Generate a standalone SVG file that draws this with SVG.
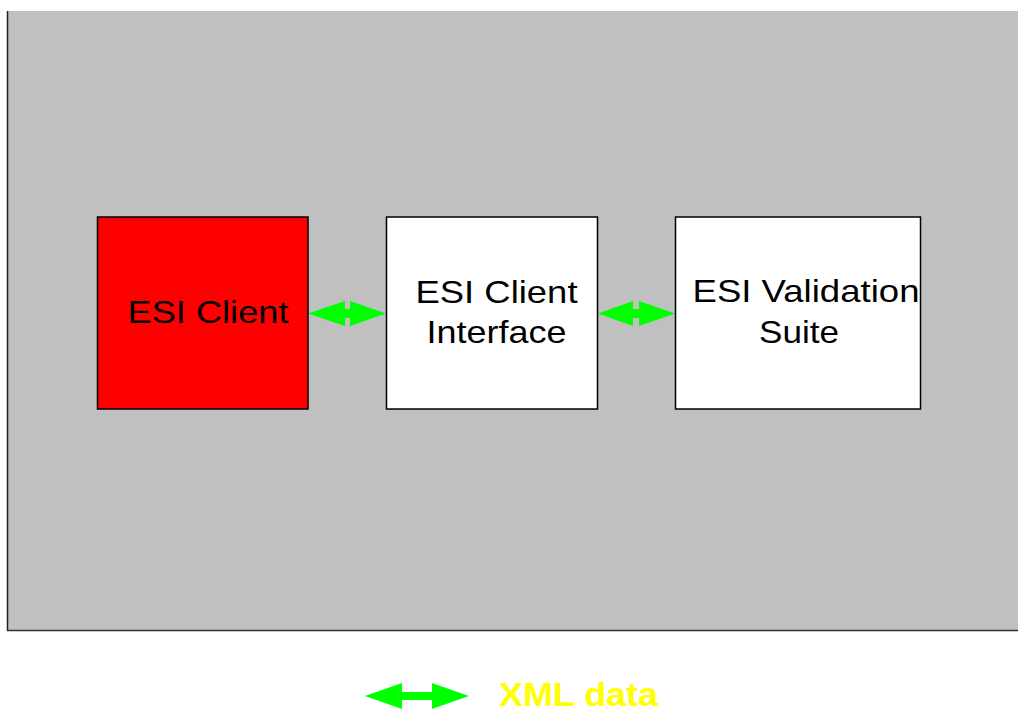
<svg xmlns="http://www.w3.org/2000/svg" width="1018" height="709" viewBox="0 0 1018 709">
<style>
.lbl{font-family:"Liberation Sans",Arial,sans-serif;font-size:32px;fill:#000}
.box{stroke:#000;stroke-width:1.5}
.arr{fill:#00ff00}
</style>
<rect x="0" y="0" width="1018" height="709" fill="#fff"/>
<g id="background">
<rect x="7.5" y="11" width="1011" height="619.5" fill="#c0c0c0"/>
<line x1="7.5" y1="11" x2="7.5" y2="631" stroke="#222" stroke-width="1.5"/>
<line x1="7" y1="630.5" x2="1018" y2="630.5" stroke="#333" stroke-width="1.5"/>
</g>
<g id="connectors">
<polygon class="arr" points="308,313.5 345,301 345,309 350,309 350,301 386,313.5 350,326 350,318 345,318 345,326"/>
<polygon class="arr" points="598,313.5 633,301 633,309 639,309 639,301 675,313.5 639,326 639,318 633,318 633,326"/>
</g>
<g id="node-esi-client">
<rect class="box" x="97.5" y="217" width="210.5" height="192" fill="#ff0000"/>
<text class="lbl" x="127.5" y="323" textLength="161" lengthAdjust="spacingAndGlyphs">ESI Client</text>
</g>
<g id="node-esi-client-interface">
<rect class="box" x="386.5" y="217" width="211" height="192" fill="#fff"/>
<text class="lbl" x="415.5" y="302.5" textLength="162" lengthAdjust="spacingAndGlyphs">ESI Client</text>
<text class="lbl" x="426.5" y="343" textLength="140" lengthAdjust="spacingAndGlyphs">Interface</text>
</g>
<g id="node-esi-validation-suite">
<rect class="box" x="675.5" y="217" width="245" height="192" fill="#fff"/>
<text class="lbl" x="692.5" y="302" textLength="227" lengthAdjust="spacingAndGlyphs">ESI Validation</text>
<text class="lbl" x="759" y="343" textLength="80" lengthAdjust="spacingAndGlyphs">Suite</text>
</g>
<g id="legend">
<polygon class="arr" points="365,696 402,683 402,692 432,692 432,683 469,696 432,709 432,700 402,700 402,709"/>
<text x="499" y="705.5" font-family="'Liberation Sans',Arial,sans-serif" font-size="34" font-weight="bold" fill="#ffff00" textLength="159" lengthAdjust="spacingAndGlyphs">XML data</text>
</g>
</svg>
